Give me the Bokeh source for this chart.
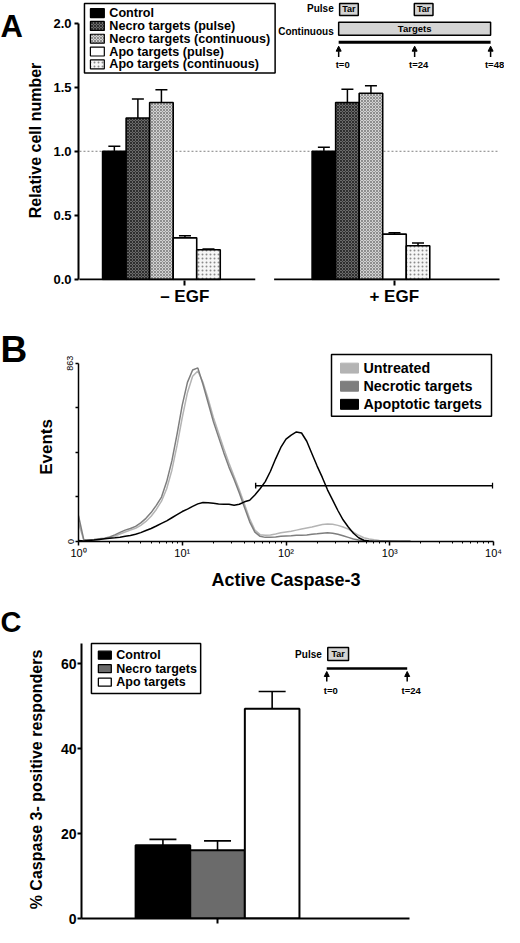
from bokeh.plotting import figure
from bokeh.models import (ColumnDataSource, Range1d, FixedTicker, Whisker, TeeHead,
                          Arrow, NormalHead, PrintfTickFormatter, LinearScale)
from bokeh.layouts import column, row
from bokeh.core.properties import value
from bokeh.embed import file_html
from bokeh.resources import INLINE

FONT = "Liberation Sans"

# ======================= DATA =======================
# ---- Panel A : relative cell number ----
a_groups = ["– EGF", "+ EGF"]
a_series = ["Control", "Necro targets (pulse)", "Necro targets (continuous)",
            "Apo targets (pulse)", "Apo targets (continuous)"]
a_mean_minus_egf = [1.00, 1.26, 1.38, 0.325, 0.232]
a_sem_minus_egf = [0.04, 0.147, 0.099, 0.016, 0.006]
a_mean_plus_egf = [1.00, 1.38, 1.453, 0.354, 0.263]
a_sem_plus_egf = [0.032, 0.104, 0.057, 0.010, 0.021]
a_yticks = [0.0, 0.5, 1.0, 1.5, 2.0]
a_reference_level = 1.0
# treatment scheme (hours)
a_pulse_start = [0.3, 23.9]
a_pulse_end = [6.2, 29.8]
a_continuous = [0, 48]
a_time_marks = [0, 24, 48]

# ---- Panel B : flow cytometry histograms ----
b_series = ["Untreated", "Necrotic targets", "Apoptotic targets"]
b_log10_channel = [0.00, 0.05, 0.10, 0.15, 0.20, 0.25, 0.30, 0.35, 0.40, 0.45,
                   0.50, 0.55, 0.60, 0.65, 0.70, 0.75, 0.80, 0.85, 0.90, 0.95,
                   1.00, 1.05, 1.10, 1.15, 1.20, 1.25, 1.30, 1.35, 1.40, 1.45,
                   1.50, 1.55, 1.60, 1.65, 1.70, 1.75, 1.80, 1.85, 1.90, 1.95,
                   2.00, 2.05, 2.10, 2.15, 2.20, 2.25, 2.30, 2.35, 2.40, 2.45,
                   2.50, 2.55, 2.60, 2.65, 2.70, 2.75, 2.80, 2.85, 2.90, 2.95,
                   3.00, 3.05, 3.10, 3.15, 3.20]
b_untreated = [90, 8, 7, 8, 10, 13, 18, 26, 36, 46,
               55, 64, 78, 97, 122, 155, 195, 255, 345, 465,
               600, 720, 800, 825, 770, 690, 600, 525, 450, 380,
               315, 250, 180, 110, 55, 33, 30, 32, 36, 42,
               46, 50, 55, 60, 65, 70, 76, 82, 85, 83,
               78, 70, 60, 45, 30, 18, 12, 8, 5, 3,
               2, 1, 0, 0, 0]
b_necrotic = [125, 10, 8, 10, 13, 16, 22, 32, 44, 55,
              63, 73, 90, 112, 140, 175, 215, 290, 390, 520,
              660, 770, 830, 840, 760, 670, 580, 505, 430, 360,
              300, 235, 165, 95, 45, 25, 20, 20, 22, 25,
              27, 28, 30, 30, 32, 35, 37, 40, 42, 40,
              35, 28, 20, 12, 7, 3, 1, 0, 0, 0,
              0, 0, 0, 0, 0]
b_apoptotic = [5, 3, 5, 7, 10, 13, 16, 18, 21, 25,
               29, 35, 43, 53, 63, 75, 88, 100, 115, 130,
               145, 157, 170, 182, 189, 188, 185, 182, 180, 180,
               175, 180, 192, 200, 225, 255, 290, 340, 400, 455,
               495, 515, 530, 525, 485, 425, 365, 310, 250, 200,
               150, 105, 70, 40, 18, 6, 2, 0, 0, 0,
               0, 0, 0, 0, 0]
b_ymax = 863
b_yticks = [0, 215.75, 431.5, 647.25, 863]
b_xticks = [1, 10, 100, 1000, 10000]
b_xtick_labels = ["10⁰", "10¹", "10²", "10³", "10⁴"]
b_gate_start, b_gate_end, b_gate_level = 51, 9800, 270

# ---- Panel C : % caspase-3 positive responders ----
c_series = ["Control", "Necro targets", "Apo targets"]
c_mean = [17.25, 16.1, 49.4]
c_sem = [1.4, 2.2, 4.1]
c_yticks = [0, 20, 40, 60]
c_pulse_start = [0.3]
c_pulse_end = [6.5]
c_time_marks = [0, 24]

# ======================= HELPERS =======================
def base_fig(**kw):
    p = figure(output_backend="svg", toolbar_location=None, **kw)
    p.outline_line_color = None
    p.grid.visible = False
    p.background_fill_color = "white"
    p.border_fill_color = "white"
    try:
        p.frame_align = False
    except Exception:
        pass
    return p


def letter_fig(s, w, h, baseline, size):
    f = base_fig(width=w, height=h, x_range=Range1d(0, w), y_range=Range1d(h, 0),
                 min_border_left=0, min_border_right=0, min_border_top=0, min_border_bottom=0,
                 x_axis_location=None, y_axis_location=None)
    f.text(x=[0], y=[baseline], text=[s], text_font=value(FONT), text_font_size=size,
           text_font_style="bold", text_baseline="alphabetic", text_align="left", text_color="black")
    return f


def style_axis(ax, lw=2, size="13px", tick_out=4, style="bold"):
    ax.axis_line_color = "black"
    ax.axis_line_width = lw
    ax.major_tick_line_color = "black"
    ax.major_tick_line_width = lw
    ax.minor_tick_line_color = None
    ax.major_tick_in = 0
    ax.major_tick_out = tick_out
    ax.major_label_text_font = FONT
    ax.major_label_text_font_style = style
    ax.major_label_text_font_size = size
    ax.major_label_text_color = "black"
    ax.axis_label_text_font = FONT
    ax.axis_label_text_font_style = "bold"
    ax.axis_label_text_color = "black"


def txt(p, x, y, s, size, align="left", xr="default", yr="default", style="bold", x_offset=0):
    p.text(x=[x], y=[y], text=[s], x_range_name=xr, y_range_name=yr,
           text_font=value(FONT), text_font_size=size, text_font_style=style,
           text_align=align, text_baseline="middle", text_color="black", x_offset=x_offset)


# ======================= PANEL A =======================
LA = 24
pa = base_fig(width=504 - LA, height=308, x_range=Range1d(0, 429), y_range=Range1d(-0.0077, 2.1757),
              min_border_left=75 - LA, min_border_right=0, min_border_top=0, min_border_bottom=26)
A_T0, A_PXH = 337, 3.1875          # scheme: position of t=0 (px) and px per hour
pa.extra_x_ranges = {"px": Range1d(75, 504),
                     "hours": Range1d((75 - A_T0) / A_PXH, (504 - A_T0) / A_PXH)}
pa.extra_y_ranges = {"py": Range1d(282, 0)}

a_styles = [
    dict(fill_color="black"),
    dict(fill_color="#6a6a6a", hatch_pattern="diagonal_cross", hatch_color="#2e2e2e", hatch_scale=3, hatch_weight=1),
    dict(fill_color="#d2d2d2", hatch_pattern="diagonal_cross", hatch_color="#8e8e8e", hatch_scale=3, hatch_weight=1),
    dict(fill_color="white"),
    dict(fill_color="#f6f6f6", hatch_pattern="dot", hatch_color="#8a8a8a", hatch_scale=4, hatch_weight=1),
]
a_group_center = [83.5, 294.5]
a_bar_w = 23.7
a_tick_pos = [107, 318]
a_axis_x0 = [1, 197]
a_axis_x1 = [178, 424]

pa.segment(x0=[a_axis_x0[0]], x1=[a_axis_x1[1]], y0=[a_reference_level], y1=[a_reference_level],
           line_color="#808080", line_width=1, line_dash="2 2")

for i, name in enumerate(a_series):
    xs = [c + (i - 2) * a_bar_w for c in a_group_center]
    means = [a_mean_minus_egf[i], a_mean_plus_egf[i]]
    sems = [a_sem_minus_egf[i], a_sem_plus_egf[i]]
    pa.vbar(x=xs, top=means, bottom=0, width=a_bar_w, line_color="black", line_width=1.6, **a_styles[i])
    src = ColumnDataSource(dict(x=xs, lower=means, upper=[m + s for m, s in zip(means, sems)]))
    pa.add_layout(Whisker(source=src, base="x", lower="lower", upper="upper", dimension="height",
                          line_color="black", line_width=1.5, lower_head=None,
                          upper_head=TeeHead(size=12, line_width=1.5, line_color="black")))

pa.segment(x0=a_axis_x0, x1=a_axis_x1, y0=[0, 0], y1=[0, 0], line_color="black", line_width=2)

ya = pa.yaxis[0]
style_axis(ya, lw=2, size="13px", tick_out=4)
ya.ticker = FixedTicker(ticks=a_yticks)
ya.formatter = PrintfTickFormatter(format="%.1f")
ya.bounds = (0, 2.0)
ya.major_label_standoff = 3
ya.axis_label = "Relative cell number"
ya.axis_label_text_font_size = "16px"
ya.axis_label_standoff = 6

xa = pa.xaxis[0]
style_axis(xa, lw=2, size="17px", tick_out=5)
xa.axis_line_color = None
xa.ticker = FixedTicker(ticks=a_tick_pos)
xa.major_label_overrides = {a_tick_pos[0]: a_groups[0], a_tick_pos[1]: a_groups[1]}
xa.major_label_standoff = 1

# legend A
pa.quad(left=[81], right=[273], top=[3], bottom=[73], x_range_name="px", y_range_name="py",
        fill_color="white", line_color="black", line_width=1.5)
for i, name in enumerate(a_series):
    yc = 12.7 + 12.9 * i
    pa.quad(left=[87], right=[101], top=[yc - 4.5], bottom=[yc + 4.5], x_range_name="px", y_range_name="py",
            line_color="black", line_width=1.2, **a_styles[i])
    txt(pa, 106, yc, name, "12.6px", xr="px", yr="py")

# treatment scheme A
pa.quad(left=a_pulse_start, right=a_pulse_end, top=[3, 3], bottom=[15, 15], x_range_name="hours",
        y_range_name="py", fill_color="#d4d4d4", line_color="black", line_width=1.5)
for s, e in zip(a_pulse_start, a_pulse_end):
    txt(pa, (s + e) / 2, 9, "Tar", "9px", align="center", xr="hours", yr="py")
pa.quad(left=[a_continuous[0]], right=[a_continuous[1]], top=[22], bottom=[35], x_range_name="hours",
        y_range_name="py", fill_color="#d4d4d4", line_color="black", line_width=1.5)
txt(pa, sum(a_continuous) / 2, 28.5, "Targets", "9.5px", align="center", xr="hours", yr="py")
txt(pa, A_T0 - 5, 8, "Pulse", "10px", align="right", xr="px", yr="py")
txt(pa, A_T0 - 5, 31, "Continuous", "10px", align="right", xr="px", yr="py")
pa.segment(x0=[a_continuous[0]], x1=[a_continuous[1]], y0=[42], y1=[42], x_range_name="hours",
           y_range_name="py", line_color="black", line_width=3)
for t in a_time_marks:
    pa.add_layout(Arrow(end=NormalHead(size=5, fill_color="black", line_color="black", line_width=1),
                        x_start=t, y_start=57, x_end=t, y_end=46, x_range_name="hours",
                        y_range_name="py", line_width=1.5, line_color="black"))
    txt(pa, t, 64, f"t={t}", "9.5px", align="center", xr="hours", yr="py", x_offset=4)

la = letter_fig("A", LA, 308, 26, "31px")

# ======================= PANEL B =======================
LB = 32
pb = base_fig(width=504 - LB, height=284, x_axis_type="log", x_range=Range1d(1, 10000),
              y_range=Range1d(0, 914.5), min_border_left=78 - LB, min_border_right=11,
              min_border_top=44, min_border_bottom=50)
pb.extra_x_ranges = {"px": Range1d(78, 493)}
pb.extra_x_scales = {"px": LinearScale()}
pb.extra_y_ranges = {"py": Range1d(546, 356)}

b_x = [10 ** v for v in b_log10_channel]
b_colors = ["#b4b4b4", "#7e7e7e", "black"]
for ys, col in zip([b_untreated, b_necrotic, b_apoptotic], b_colors):
    pb.line(x=b_x, y=ys, line_color=col, line_width=1.5)

# gate marker
pb.segment(x0=[b_gate_start], x1=[b_gate_end], y0=[b_gate_level], y1=[b_gate_level],
           line_color="black", line_width=1.4)
pb.segment(x0=[b_gate_start, b_gate_end], x1=[b_gate_start, b_gate_end],
           y0=[b_gate_level - 14, b_gate_level - 14], y1=[b_gate_level + 14, b_gate_level + 14],
           line_color="black", line_width=1.4)

yb = pb.yaxis[0]
style_axis(yb, lw=1.5, size="9px", tick_out=3, style="normal")
yb.ticker = FixedTicker(ticks=b_yticks)
yb.major_label_overrides = {b_yticks[0]: "0", b_yticks[1]: "", b_yticks[2]: "", b_yticks[3]: "",
                            b_yticks[4]: str(b_ymax)}
yb.major_label_orientation = "vertical"
yb.bounds = (0, b_ymax)
yb.major_label_standoff = 2
yb.axis_label = "Events"
yb.axis_label_text_font_size = "17px"
yb.axis_label_standoff = 9

xb = pb.xaxis[0]
style_axis(xb, lw=1.5, size="11px", tick_out=4, style="normal")
xb.ticker = FixedTicker(ticks=b_xticks,
                        minor_ticks=[m * 10 ** d for d in range(4) for m in range(2, 10)])
xb.minor_tick_line_color = "black"
xb.minor_tick_line_width = 1
xb.minor_tick_in = 0
xb.minor_tick_out = 2
xb.major_label_overrides = dict(zip(b_xticks, b_xtick_labels))
xb.major_label_standoff = 1
xb.axis_label = "Active Caspase-3"
xb.axis_label_text_font_size = "18px"
xb.axis_label_standoff = 8

# legend B
pb.quad(left=[331], right=[491], top=[358], bottom=[420], x_range_name="px", y_range_name="py",
        fill_color="white", line_color="black", line_width=1.5)
for i, name in enumerate(b_series):
    yc = 371.7 + 18.2 * i
    pb.quad(left=[340], right=[358], top=[yc - 5], bottom=[yc + 5], x_range_name="px", y_range_name="py",
            fill_color=b_colors[i], line_color=b_colors[i], line_width=1)
    txt(pb, 363, yc, name, "14.3px", xr="px", yr="py")

lb = letter_fig("B", LB, 284, 41, "37px")

# ======================= PANEL C =======================
LC = 24
pc = base_fig(width=504 - LC, height=335, x_range=Range1d(0, 426), y_range=Range1d(0, 65.5),
              min_border_left=78 - LC, min_border_right=0, min_border_top=48, min_border_bottom=9)
C_T0, C_PXH = 325, 3.375
pc.extra_x_ranges = {"px": Range1d(78, 504),
                     "hours": Range1d((78 - C_T0) / C_PXH, (504 - C_T0) / C_PXH)}
pc.extra_y_ranges = {"py": Range1d(934, 656)}

c_centers = [82, 137, 192]
c_bar_w = 55
c_colors = ["black", "#6b6b6b", "white"]
pc.vbar(x=c_centers, top=c_mean, bottom=0, width=c_bar_w, fill_color=c_colors,
        line_color="black", line_width=2)
c_src = ColumnDataSource(dict(x=c_centers, lower=c_mean, upper=[m + s for m, s in zip(c_mean, c_sem)]))
pc.add_layout(Whisker(source=c_src, base="x", lower="lower", upper="upper", dimension="height",
                      line_color="black", line_width=1.6, lower_head=None,
                      upper_head=TeeHead(size=27, line_width=1.6, line_color="black")))

yc_ax = pc.yaxis[0]
style_axis(yc_ax, lw=2, size="14px", tick_out=4)
yc_ax.ticker = FixedTicker(ticks=c_yticks)
yc_ax.bounds = (0, 64.8)
yc_ax.major_label_standoff = 1
yc_ax.axis_label = "% Caspase 3- positive responders"
yc_ax.axis_label_text_font_size = "16px"
yc_ax.axis_label_standoff = 13

xc_ax = pc.xaxis[0]
style_axis(xc_ax, lw=2, size="0px", tick_out=5)
xc_ax.ticker = FixedTicker(ticks=[c_centers[1]])
xc_ax.major_label_overrides = {c_centers[1]: ""}
xc_ax.bounds = (0, 330)
xc_ax.major_label_standoff = 0

# legend C
pc.quad(left=[88], right=[198], top=[659], bottom=[709], x_range_name="px", y_range_name="py",
        fill_color="white", line_color="black", line_width=1.5)
for i, name in enumerate(c_series):
    yc = 670.7 + 13.5 * i
    pc.quad(left=[95], right=[108], top=[yc - 4], bottom=[yc + 4], x_range_name="px", y_range_name="py",
            fill_color=c_colors[i], line_color="black", line_width=1.3)
    txt(pc, 113, yc, name, "12.5px", xr="px", yr="py")

# treatment scheme C
pc.quad(left=c_pulse_start, right=c_pulse_end, top=[663], bottom=[676], x_range_name="hours",
        y_range_name="py", fill_color="#d4d4d4", line_color="black", line_width=1.5)
txt(pc, (c_pulse_start[0] + c_pulse_end[0]) / 2, 669.5, "Tar", "9px", align="center", xr="hours", yr="py")
txt(pc, 320, 670, "Pulse", "10px", align="right", xr="px", yr="py")
pc.segment(x0=[c_time_marks[0]], x1=[c_time_marks[-1]], y0=[684], y1=[684], x_range_name="hours",
           y_range_name="py", line_color="black", line_width=2.5)
for t in c_time_marks:
    pc.add_layout(Arrow(end=NormalHead(size=5, fill_color="black", line_color="black", line_width=1),
                        x_start=t, y_start=697, x_end=t, y_end=687, x_range_name="hours",
                        y_range_name="py", line_width=1.5, line_color="black"))
    txt(pc, t, 706, f"t={t}", "9.5px", align="center", xr="hours", yr="py", x_offset=4)

lc = letter_fig("C", LC, 335, 29, "29px")

layout = column(row(la, pa), row(lb, pb), row(lc, pc))
open("out.html", "w").write(file_html(layout, INLINE))
